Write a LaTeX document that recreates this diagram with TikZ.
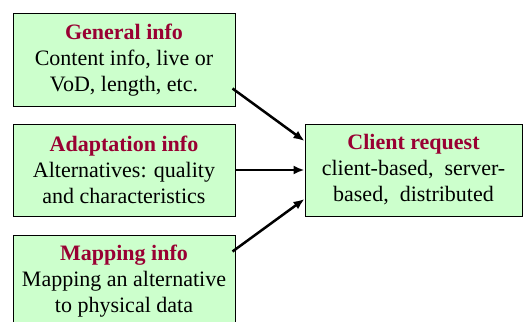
\documentclass[tikz,border=0pt]{standalone}
\usepackage{fontspec}
\setmainfont{Liberation Serif}
\usetikzlibrary{arrows.meta}
\definecolor{boxfill}{HTML}{CCFFCC}
\definecolor{titlered}{HTML}{990033}
\begin{document}
\begin{tikzpicture}[x=1pt,y=-1pt,
  infobox/.style={draw=black, line width=1pt, fill=boxfill, minimum width=222pt, minimum height=92pt, align=center, inner sep=0pt,
    font=\fontsize{22}{26}\selectfont},
  reqbox/.style={infobox, minimum width=217pt},
  conn/.style={line width=2.5pt, -{Latex[length=11pt,width=9pt]}}]
\clip (0,0) rectangle (526,321);
\fill[white] (0,0) rectangle (526,321);
\node[infobox] (g) at (124,60) {{\bfseries\color{titlered}General info}\\Content info, live or\\VoD, length, etc.};
\node[infobox] (a) at (124,170) {{\bfseries\color{titlered}Adaptation info}\\Alternatives: quality\\and characteristics};
\node[infobox] (m) at (124,281) {{\bfseries\color{titlered}Mapping info}\\Mapping an alternative\\to physical data};
\node[reqbox] (c) at (413.5,170) {{\bfseries\color{titlered}Client request}\\client-based,\ \ server-\\based,\ \ distributed};
\draw[conn] ([shift={(-3pt,18pt)}]g.south east) -- ([yshift=29pt]c.west);
\draw[conn] (a.east) -- (c.west);
\draw[conn] ([shift={(-3pt,-17pt)}]m.north east) -- ([yshift=-29pt]c.west);
\end{tikzpicture}
\end{document}
